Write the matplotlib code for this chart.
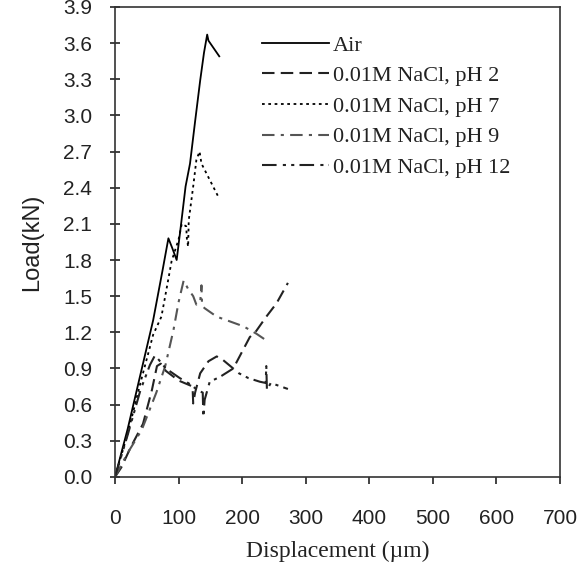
import matplotlib.pyplot as plt
import numpy as np

# displacement (um) / load (kN)
air_x = [0, 20, 40, 60, 75, 84, 90, 97, 104, 111, 118, 126, 134, 140, 145, 147, 164]
air_y = [0, 0.40, 0.85, 1.30, 1.72, 1.98, 1.90, 1.80, 2.10, 2.41, 2.60, 2.95, 3.29, 3.52, 3.67, 3.62, 3.49]

ph2_x = [0, 10, 25, 44, 58, 66, 72, 80, 100, 118, 122, 123, 126, 134, 147, 160, 170, 186,
         196, 212, 222, 238, 254, 272]
ph2_y = [0, 0.08, 0.25, 0.44, 0.72, 0.92, 0.94, 0.88, 0.80, 0.76, 0.75, 0.61, 0.70, 0.86,
         0.96, 1.00, 0.97, 0.90, 1.00, 1.16, 1.21, 1.33, 1.44, 1.61]

ph7_x = [0, 20, 40, 60, 73, 79, 89, 100, 105, 112, 113, 115, 116, 123, 128, 133, 136, 162]
ph7_y = [0, 0.36, 0.78, 1.18, 1.33, 1.50, 1.79, 1.97, 2.10, 2.08, 1.98, 1.91, 2.13, 2.41,
         2.63, 2.70, 2.60, 2.33]

ph9_x = [0, 20, 42, 48, 65, 79, 92, 100, 108, 115, 123, 128, 134, 136, 137, 141, 160, 181,
         202, 222, 236]
ph9_y = [0, 0.20, 0.39, 0.47, 0.70, 0.92, 1.22, 1.45, 1.63, 1.56, 1.50, 1.43, 1.45, 1.59,
         1.42, 1.40, 1.33, 1.29, 1.25, 1.19, 1.14]

ph12_x = [0, 20, 40, 55, 63, 80, 102, 118, 130, 138, 139, 141, 149, 165, 186, 195, 210,
          228, 237, 238, 239, 245, 272]
ph12_y = [0, 0.35, 0.72, 0.93, 1.01, 0.90, 0.82, 0.77, 0.72, 0.70, 0.50, 0.64, 0.79, 0.83,
          0.90, 0.86, 0.82, 0.79, 0.78, 0.92, 0.72, 0.78, 0.73]

labels = ["Air", "0.01M NaCl, pH 2", "0.01M NaCl, pH 7", "0.01M NaCl, pH 9",
          "0.01M NaCl, pH 12"]

fig = plt.figure(figsize=(5.82, 5.63), dpi=100)
ax = fig.add_axes([0.1976, 0.1528, 0.7646, 0.835])

ax.plot(air_x, air_y, color="black", lw=1.3, label=labels[0])
ax.plot(ph2_x, ph2_y, color="#222222", lw=1.5, dashes=(6, 3), label=labels[1])
ax.plot(ph7_x, ph7_y, color="black", lw=1.3, dashes=(1.5, 2), label=labels[2])
ax.plot(ph9_x, ph9_y, color="#555555", lw=1.5, dashes=(6, 3, 1.5, 3), label=labels[3])
ax.plot(ph12_x, ph12_y, color="#222222", lw=1.5, dashes=(7, 3, 1.5, 2.5, 1.5, 2.5),
        label=labels[4])

ax.set_xlim(0, 700)
ax.set_ylim(0, 3.9)
ax.set_xticks(np.arange(0, 701, 100))
ax.set_yticks(np.arange(0, 3.91, 0.3))
ax.yaxis.set_major_formatter(plt.FormatStrFormatter("%.1f"))

for s in ax.spines.values():
    s.set_color("#333333")
    s.set_linewidth(1.2)

ax.tick_params(axis="x", direction="out", length=5, width=1.2, labelsize=15, pad=18,
               labelfontfamily="Liberation Sans", colors="#222222")
ax.tick_params(axis="y", direction="inout", length=7, width=1.2, labelsize=15, pad=13,
               labelfontfamily="Liberation Sans", colors="#222222")

ax.set_xlabel("Displacement (\u00b5m)", family="Liberation Serif", fontsize=17,
              color="#222222", labelpad=9)
ax.set_ylabel("Load(kN)", family="Liberation Sans", fontsize=17, color="#222222",
              labelpad=14)

leg = ax.legend(loc="upper left", bbox_to_anchor=(0.33, 0.94), frameon=False,
                prop={"family": "Liberation Serif", "size": 16}, handlelength=3.0,
                handletextpad=0.2, labelspacing=0.45, borderpad=0, borderaxespad=0)
for t in leg.get_texts():
    t.set_color("#222222")

fig.savefig("out.png", dpi=100)
